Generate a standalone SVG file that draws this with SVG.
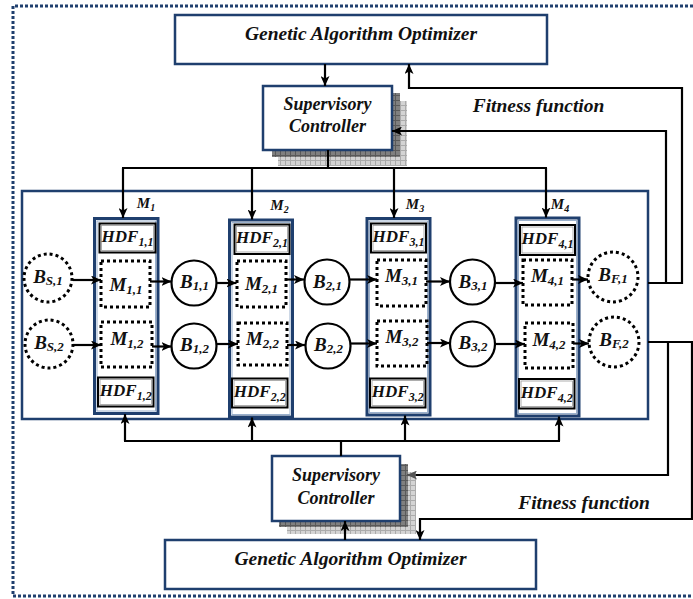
<svg xmlns="http://www.w3.org/2000/svg" width="693" height="599" viewBox="0 0 693 599">
<defs>
<pattern id="gd" width="5" height="5" patternUnits="userSpaceOnUse">
<rect width="5" height="5" fill="#808080"/>
<path d="M0,0.5 H5 M0.5,0 V5" stroke="#5a5a5a" stroke-width="1"/>
</pattern>
<pattern id="gl" width="5" height="5" patternUnits="userSpaceOnUse">
<rect width="5" height="5" fill="#d4d4d4"/>
<path d="M0,0.5 H5 M0.5,0 V5" stroke="#ababab" stroke-width="1"/>
</pattern>
<marker id="ah" markerUnits="userSpaceOnUse" markerWidth="11" markerHeight="9" refX="10" refY="4.5" orient="auto">
<path d="M0,0 L10,4.5 L0,9 L2.5,4.5 z" fill="#000"/>
</marker>
<marker id="ahg" markerUnits="userSpaceOnUse" markerWidth="11" markerHeight="9" refX="10" refY="4.5" orient="auto">
<path d="M0,0 L10,4.5 L0,9 L2.5,4.5 z" fill="#555"/>
</marker>
</defs>
<style>
.t{font-family:"Liberation Serif","Times New Roman",serif;font-weight:bold;font-style:italic;fill:#111;text-anchor:middle}
.big{font-size:19.5px}
.sc{font-size:18px}
.lab{font-size:19px}
.hdf{font-size:17px}
.blue{fill:#fff;stroke:#1f3f6e;stroke-width:2.5}
.col{fill:none;stroke:#1f3f6e;stroke-width:3}
.coli{fill:none;stroke:#9ab0cc;stroke-width:1}
.hb{fill:#fff;stroke:#000;stroke-width:2}
.hbi{fill:none;stroke:#999;stroke-width:0.8}
.dot{fill:none;stroke:#000;stroke-width:3;stroke-dasharray:3 3}
.circ{fill:#fff;stroke:#000;stroke-width:2.2}
.conn{fill:none;stroke:#000;stroke-width:2.2}
.ar{marker-end:url(#ah)}
</style>
<rect width="693" height="599" fill="#fff"/>
<path d="M693,6 H13 V596 H693" fill="none" stroke="#1f3f6e" stroke-width="3" stroke-dasharray="3 2"/>

<g id="main-box"><rect x="22" y="191" width="626" height="228" class="blue"/></g>

<g id="ga-top">
<rect x="175" y="15" width="372" height="49" class="blue"/>
<text x="361" y="40" class="t big">Genetic Algorithm Optimizer</text>
</g>
<g id="sc-top">
<rect x="278" y="101" width="129" height="65" fill="url(#gl)"/>
<rect x="272" y="93" width="128" height="64" fill="url(#gd)"/>
<rect x="263" y="86" width="129" height="64" class="blue"/>
<text x="327.5" y="110" class="t sc">Supervisory</text>
<text x="327.5" y="132" class="t sc">Controller</text>
</g>
<g id="fitness-top"><text x="538.5" y="112" class="t big">Fitness function</text></g>

<g id="ga-bottom">
<rect x="165" y="540" width="371" height="49" class="blue"/>
<text x="350.5" y="565" class="t big">Genetic Algorithm Optimizer</text>
</g>
<g id="sc-bottom">
<rect x="287" y="472" width="129" height="62" fill="url(#gl)"/>
<rect x="279" y="464" width="129" height="63" fill="url(#gd)"/>
<rect x="272" y="456" width="128" height="65" class="blue"/>
<text x="336" y="481" class="t sc">Supervisory</text>
<text x="336" y="504" class="t sc">Controller</text>
</g>
<g id="fitness-bottom"><text x="584" y="509" class="t big">Fitness function</text></g>

<g id="machine-1">
<rect x="94.5" y="218.5" width="63.5" height="195" class="col"/>
<rect x="97" y="221" width="58.5" height="190" class="coli"/>
<text x="146" y="208" class="t" font-size="15">M<tspan font-size="10" dy="3">1</tspan></text>
<rect x="99.5" y="223.5" width="56" height="29" class="hb"/>
<rect x="101.5" y="225.5" width="52" height="25" class="hbi"/>
<text x="127.5" y="242" class="t hdf">HDF<tspan font-size="12" dy="4">1,1</tspan></text>
<rect x="98" y="377.5" width="55.5" height="29" class="hb"/>
<rect x="100" y="379.5" width="51.5" height="25" class="hbi"/>
<text x="125.75" y="396" class="t hdf">HDF<tspan font-size="12" dy="4">1,2</tspan></text>
<rect x="101" y="261" width="49" height="46" class="dot"/>
<text x="126" y="291" class="t lab">M<tspan font-size="13" dy="3">1,1</tspan></text>
<rect x="101" y="322" width="51" height="45" class="dot"/>
<text x="127" y="345" class="t lab">M<tspan font-size="13" dy="3">1,2</tspan></text>
</g>
<g id="machine-2">
<rect x="229.5" y="220" width="63" height="197" class="col"/>
<rect x="232" y="222.5" width="58" height="192" class="coli"/>
<text x="279.5" y="210" class="t" font-size="15">M<tspan font-size="10" dy="3">2</tspan></text>
<rect x="234.5" y="224.5" width="55" height="29.5" class="hb"/>
<rect x="236.5" y="226.5" width="51" height="25.5" class="hbi"/>
<text x="262" y="243" class="t hdf">HDF<tspan font-size="12" dy="4">2,1</tspan></text>
<rect x="232" y="378.5" width="55.5" height="29" class="hb"/>
<rect x="234" y="380.5" width="51.5" height="25" class="hbi"/>
<text x="259.75" y="397" class="t hdf">HDF<tspan font-size="12" dy="4">2,2</tspan></text>
<rect x="237" y="261" width="49" height="46" class="dot"/>
<text x="261.5" y="290" class="t lab">M<tspan font-size="13" dy="3">2,1</tspan></text>
<rect x="238" y="323" width="49" height="42" class="dot"/>
<text x="262.5" y="345" class="t lab">M<tspan font-size="13" dy="3">2,2</tspan></text>
</g>
<g id="machine-3">
<rect x="367" y="218.5" width="63" height="196.5" class="col"/>
<rect x="369.5" y="221" width="58" height="191.5" class="coli"/>
<text x="415" y="209" class="t" font-size="15">M<tspan font-size="10" dy="3">3</tspan></text>
<rect x="371" y="223.5" width="55" height="29" class="hb"/>
<rect x="373" y="225.5" width="51" height="25" class="hbi"/>
<text x="398.5" y="242" class="t hdf">HDF<tspan font-size="12" dy="4">3,1</tspan></text>
<rect x="370" y="378.5" width="55.5" height="29" class="hb"/>
<rect x="372" y="380.5" width="51.5" height="25" class="hbi"/>
<text x="397.75" y="397" class="t hdf">HDF<tspan font-size="12" dy="4">3,2</tspan></text>
<rect x="377" y="260" width="49" height="46" class="dot"/>
<text x="401.5" y="282" class="t lab">M<tspan font-size="13" dy="3">3,1</tspan></text>
<rect x="377" y="321" width="50" height="45" class="dot"/>
<text x="402" y="343" class="t lab">M<tspan font-size="13" dy="3">3,2</tspan></text>
</g>
<g id="machine-4">
<rect x="516" y="218" width="63" height="198" class="col"/>
<rect x="518.5" y="220.5" width="58" height="193" class="coli"/>
<text x="560" y="209" class="t" font-size="15">M<tspan font-size="10" dy="3">4</tspan></text>
<rect x="520" y="225" width="55" height="30" class="hb"/>
<rect x="522" y="227" width="51" height="26" class="hbi"/>
<text x="547.5" y="244" class="t hdf">HDF<tspan font-size="12" dy="4">4,1</tspan></text>
<rect x="519" y="379" width="55.5" height="29.5" class="hb"/>
<rect x="521" y="381" width="51.5" height="25.5" class="hbi"/>
<text x="546.75" y="398" class="t hdf">HDF<tspan font-size="12" dy="4">4,2</tspan></text>
<rect x="523" y="260" width="49" height="45" class="dot"/>
<text x="547.5" y="282" class="t lab">M<tspan font-size="13" dy="3">4,1</tspan></text>
<rect x="525" y="323" width="48" height="45" class="dot"/>
<text x="549" y="346" class="t lab">M<tspan font-size="13" dy="3">4,2</tspan></text>
</g>

<g id="buffer-s1"><circle cx="48" cy="278" r="24" class="dot"/><text x="48" y="283" class="t lab">B<tspan font-size="13" dy="2">S,1</tspan></text></g>
<g id="buffer-s2"><circle cx="49" cy="344" r="24" class="dot"/><text x="49" y="348.5" class="t lab">B<tspan font-size="13" dy="2">S,2</tspan></text></g>
<g id="buffer-11"><circle cx="194" cy="283" r="22.5" class="circ"/><text x="194.5" y="287.5" class="t lab">B<tspan font-size="13" dy="2">1,1</tspan></text></g>
<g id="buffer-12"><circle cx="194" cy="346" r="22.5" class="circ"/><text x="194.5" y="350.5" class="t lab">B<tspan font-size="13" dy="2">1,2</tspan></text></g>
<g id="buffer-21"><circle cx="327" cy="282" r="22.5" class="circ"/><text x="327.5" y="287.5" class="t lab">B<tspan font-size="13" dy="2">2,1</tspan></text></g>
<g id="buffer-22"><circle cx="328" cy="346" r="22.5" class="circ"/><text x="328.5" y="351" class="t lab">B<tspan font-size="13" dy="2">2,2</tspan></text></g>
<g id="buffer-31"><circle cx="472.5" cy="282" r="22.5" class="circ"/><text x="473" y="287.5" class="t lab">B<tspan font-size="13" dy="2">3,1</tspan></text></g>
<g id="buffer-32"><circle cx="472.5" cy="344" r="22.5" class="circ"/><text x="473" y="349" class="t lab">B<tspan font-size="13" dy="2">3,2</tspan></text></g>
<g id="buffer-f1"><circle cx="613" cy="277" r="25" class="dot"/><text x="613" y="281" class="t lab">B<tspan font-size="13" dy="2">F,1</tspan></text></g>
<g id="buffer-f2"><circle cx="614" cy="342" r="25" class="dot"/><text x="614" y="346" class="t lab">B<tspan font-size="13" dy="2">F,2</tspan></text></g>

<g id="connectors">
<line x1="325" y1="64" x2="325" y2="86" class="conn ar"/>
<polyline points="648,283 682,283 682,88 409,88 409,64" class="conn ar"/>
<polyline points="666,283 666,131 392,131" class="conn ar"/>
<line x1="328" y1="150" x2="328" y2="168" class="conn"/>
<line x1="122" y1="168" x2="547" y2="168" class="conn"/>
<line x1="123" y1="168" x2="123" y2="218" class="conn ar"/>
<line x1="252" y1="168" x2="252" y2="219.5" class="conn ar"/>
<line x1="394" y1="168" x2="394" y2="218" class="conn ar"/>
<line x1="546" y1="168" x2="546" y2="217.5" class="conn ar"/>
<line x1="345" y1="540" x2="345" y2="521" class="conn ar"/>
<line x1="341" y1="456" x2="341" y2="441" class="conn"/>
<line x1="124" y1="441" x2="560" y2="441" class="conn"/>
<line x1="125" y1="441" x2="125" y2="414" class="conn ar"/>
<line x1="252" y1="441" x2="252" y2="417.5" class="conn ar"/>
<line x1="405" y1="441" x2="405" y2="415.5" class="conn ar"/>
<line x1="559" y1="441" x2="559" y2="416.5" class="conn ar"/>
<polyline points="648,342 692,342 692,519 420,519 420,540" class="conn ar"/>
<polyline points="668,342 668,475 416,475" class="conn"/>
<line x1="416" y1="475" x2="407" y2="475" stroke="#555" stroke-width="2.2" marker-end="url(#ahg)"/>
<line x1="73" y1="280" x2="101" y2="280" class="conn ar"/>
<line x1="150" y1="281.5" x2="171.5" y2="281.5" class="conn ar"/>
<line x1="217" y1="283" x2="236.5" y2="283" class="conn ar"/>
<line x1="286" y1="279.5" x2="304" y2="279.5" class="conn ar"/>
<line x1="350" y1="279.5" x2="377" y2="279.5" class="conn ar"/>
<line x1="426" y1="281.5" x2="450" y2="281.5" class="conn ar"/>
<line x1="495" y1="283" x2="523" y2="283" class="conn ar"/>
<line x1="572" y1="279.5" x2="588" y2="279.5" class="conn ar"/>
<line x1="73" y1="345" x2="101" y2="345" class="conn ar"/>
<line x1="152" y1="346.5" x2="171.5" y2="346.5" class="conn ar"/>
<line x1="217" y1="344" x2="238" y2="344" class="conn ar"/>
<line x1="287" y1="345" x2="305" y2="345" class="conn ar"/>
<line x1="351" y1="343.5" x2="377" y2="343.5" class="conn ar"/>
<line x1="427" y1="343" x2="450" y2="343" class="conn ar"/>
<line x1="495" y1="344" x2="525" y2="344" class="conn ar"/>
<line x1="573" y1="343.5" x2="589" y2="343.5" class="conn ar"/>
</g>
</svg>
